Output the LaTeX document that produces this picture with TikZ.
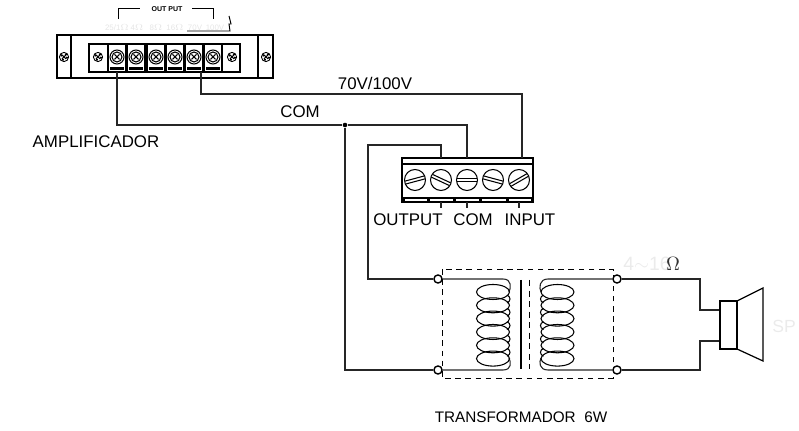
\documentclass[tikz,border=0pt]{standalone}
\usepackage{fontspec}
\setmainfont{Liberation Sans}
\tikzset{
  lbl/.style={inner sep=0pt, font=\fontsize{9.6}{11}\selectfont},
  faint/.style={inner sep=0pt, text=black!10, font=\fontsize{4.5}{5}\selectfont},
  wire/.style={line width=0.62pt, black!85},
  pin/.style={circle, draw, fill=white, line width=0.8pt, inner sep=0pt, minimum size=4.6pt},
  dotnode/.style={circle, fill=black, inner sep=0pt, minimum size=2.6pt},
  bolt/.pic={
    \fill[white, draw=black, line width=0.5pt] (0,0) circle (4.6);
    \draw[line width=1pt, dotted] (0,0) circle (3.2);
    \draw[line width=0.6pt] (-2,-2)--(2,2) (-2,2)--(2,-2);
  },
  clamp/.pic={
    \draw[line width=0.6pt] (-9,-13) rectangle (9,15);
    \fill[black] (-7,10.5) rectangle (7,13);
    \fill[white, draw=black, line width=0.6pt] (0,0) circle (7);
    \draw[line width=0.6pt] (0,0) circle (5);
    \draw[line width=0.6pt] (-2.5,-2.5)--(2.5,2.5) (-2.5,2.5)--(2.5,-2.5);
  },
}
\begin{document}
\begin{tikzpicture}[x=0.02cm, y=-0.02cm]
  \useasboundingbox (0,0) rectangle (799,431);
  % amplifier
  \draw[line width=0.7pt] (57,35) rectangle (273,78);
  \draw[line width=0.7pt] (71,35)--(71,78) (258,35)--(258,78);
  \draw[line width=0.7pt] (89,44) rectangle (240,72);
  \foreach \x in {64,98,232,266} \pic at (\x,57) {bolt};
  \foreach \x in {117,136,156,175,194,213} \pic at (\x,57) {clamp};
  \node[inner sep=0pt, font=\fontsize{4}{5}\selectfont\bfseries] (outlbl) at (167,9) {OUT PUT};
  \draw[line width=0.55pt] (118,19)--(118,8)--(140,8);
  \draw[line width=0.55pt] (192,8)--(213,8)--(213,19);
  \node[faint] (ta) at (117,28) {25/1$\Omega$};
  \node[faint] (tb) at (137,28) {4$\Omega$};
  \node[faint] (tc) at (156,28) {8$\Omega$};
  \node[faint] (td) at (175,28) {16$\Omega$};
  \node[faint] (te) at (195,28) {70V};
  \node[faint] (tf) at (215,28) {100V};
  \draw[line width=0.55pt] (187,31)--(230,31)--(229,24)--(231,24)--(229,16);
  \coordinate (comamp) at (117,72);
  \coordinate (hotamp) at (201,72);
  % terminal block
  \draw[line width=0.6pt] (402,158) rectangle (533,202);
  \draw[line width=0.6pt] (402,164)--(533,164);
  \draw[line width=0.6pt] (402,198)--(533,198);
  \foreach \x in {403,428,454,480,507,532} \fill (\x-1.5,197) rectangle (\x+1.5,202);
  \foreach \x/\a in {415/15,441/-25,467/0,493/-15,519/30} {
    \draw[line width=0.6pt] (\x,180) circle (10.5);
    \draw[line width=0.6pt, rotate around={\a:(\x,180)}] (\x-10,178.5)--(\x+10,178.5) (\x-10,181.5)--(\x+10,181.5);
  }
  \foreach \x in {441,467,519} \draw[wire] (\x,202)--(\x,208);
  \coordinate (outtop) at (441,158);
  \coordinate (comtop) at (467,158);
  \coordinate (intop) at (522,158);
  \node[lbl] (outputlbl) at (408,220) {OUTPUT};
  \node[lbl] (comlbl) at (473,220) {COM};
  \node[lbl] (inputlbl) at (530,220) {INPUT};
  % wiring
  \node[dotnode] (junction) at (345,125) {};
  \node[pin] (pa) at (438,279) {};
  \node[pin] (pb) at (438,370) {};
  \node[pin] (pc) at (617,279) {};
  \node[pin] (pd) at (617,370) {};
  \draw[wire] (comamp)--(117,125)--(junction)--(467,125)--(comtop);
  \draw[wire] (hotamp)--(201,94)--(522,94)--(intop);
  \draw[wire] (junction)--(345,370)--(pb);
  \draw[wire] (outtop)--(441,145)--(368,145)--(368,279)--(pa);
  \node[lbl] (hotlbl) at (375,83) {70V/100V};
  \node[lbl] (comwire) at (300,112) {COM};
  \node[lbl] (amplbl) at (96,142) {AMPLIFICADOR};
  \node[lbl, font=\fontsize{8.7}{10}\selectfont] (trlbl) at (521,417) {TRANSFORMADOR\ \ 6W};
  % transformer
  \draw[line width=0.55pt, dash pattern=on 3.2pt off 2.6pt] (442,269) rectangle (613,378);
  \draw[wire] (pa)--(503,279) .. controls (512,279) and (511,288) .. (509,292);
  \draw[wire] (pb)--(503,370) .. controls (512,370) and (511,362) .. (509,358);
  \draw[wire] (pc)--(548,279) .. controls (539,279) and (539,288) .. (541,292);
  \draw[wire] (pd)--(548,370) .. controls (539,370) and (539,362) .. (541,358);
  \foreach \y in {292,305.3,318.6,332,345.3} {
    \draw[line width=0.6pt] (507,\y+3) .. controls (511,\y+5) and (511,\y+9) .. (507,\y+11);
    \draw[line width=0.6pt] (543.5,\y+3) .. controls (539.5,\y+5) and (539.5,\y+9) .. (543.5,\y+11);
  }
  \foreach \y in {292,305.3,318.6,332,345.3,358.6} {
    \draw[line width=0.6pt] (493,\y) ellipse (16.5 and 7.5);
    \draw[line width=0.6pt] (557.5,\y) ellipse (16.5 and 7.5);
  }
  \draw[line width=0.7pt] (521,280)--(521,369);
  \draw[line width=0.55pt, dash pattern=on 3.5pt off 2.5pt] (529,280)--(529,369);
  % speaker
  \draw[wire] (pc)--(700,279)--(700,310)--(720,310);
  \draw[wire] (pd)--(700,370)--(700,341)--(720,341);
  \draw[line width=0.7pt] (720,301) rectangle (737,349);
  \draw[line width=0.7pt] (737,301)--(763,288)--(763,361)--(737,349);
  \node[inner sep=0pt, text=black!8, font=\fontsize{10}{11}\selectfont] (splbl) at (784,326) {SP};
  \node[inner sep=0pt, text=black!8, font=\fontsize{11}{12}\selectfont, anchor=west] (ohmlbl) at (623,264) {4$\sim$16};
  \node[inner sep=0pt, text=black!80, font=\fontsize{11}{12}\selectfont] (ohm) at (673,264) {$\Omega$};
\end{tikzpicture}
\end{document}
